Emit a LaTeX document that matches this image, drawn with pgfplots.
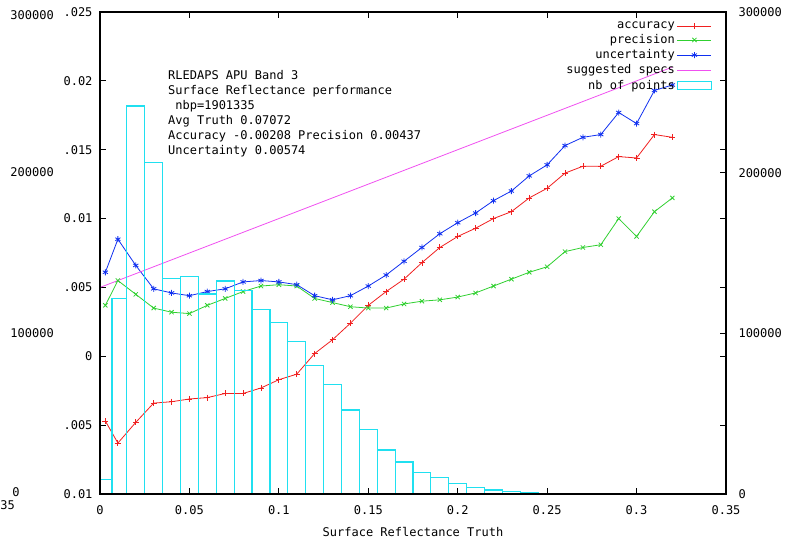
\documentclass[border=0pt]{standalone}
\usepackage{fontspec}
\setmainfont{DejaVu Sans Mono}
\usepackage{pgfplots}
\pgfplotsset{compat=1.18}
\definecolor{accred}{HTML}{F02020}
\definecolor{precgreen}{HTML}{30D030}
\definecolor{uncblue}{HTML}{1030F0}
\definecolor{specmag}{HTML}{F050F0}
\definecolor{histcyan}{HTML}{20E0F0}
\pgfplotsset{
  frame/.style={
    at={(0,0)}, anchor=south west, scale only axis,
    width=626pt, height=482pt,
    xmin=0, xmax=0.35,
    tick align=inside, major tick length=6pt,
    axis line style={line width=1.6pt, black},
    tick style={line width=1.1pt, black},
  },
}

\begin{document}
\begin{tikzpicture}[font=\fontsize{12}{15}\selectfont]
\useasboundingbox (-100pt,-51pt) rectangle (692pt,494pt);

% lines, left axis
\begin{axis}[frame,
    ymin=-0.01, ymax=0.025,
    xtick={0,0.05,0.1,0.15,0.2,0.25,0.3,0.35},
    xticklabels={0,0.05,0.1,0.15,0.2,0.25,0.3,0.35},
    ytick={-0.01,-0.005,0,0.005,0.01,0.015,0.02,0.025},
    yticklabels={-0.01,-0.005,0,0.005,0.01,0.015,0.02,0.025},
    xticklabel style={yshift=-8pt},
    yticklabel style={xshift=-4pt},
    xlabel={Surface Reflectance Truth},
    x label style={at={(axis description cs:0.5,0)}, anchor=center, yshift=-38pt},
    legend style={at={(axis description cs:0.978,0.984)}, anchor=north east,
      draw=none, fill=none, inner sep=0pt, row sep=0.5pt,
      nodes={inner sep=2pt}},
    legend plot pos=right, legend cell align=right,
    legend image code/.code={\draw[mark repeat=2,mark phase=2,#1]
      plot coordinates {(0pt,0pt) (17pt,0pt) (34pt,0pt)};},
]
\addplot[accred, line width=0.8pt, mark=+, mark size=3pt] coordinates {
(0.003,-0.0047) (0.01,-0.0063) (0.02,-0.0048) (0.03,-0.0034) (0.04,-0.0033)
(0.05,-0.0031) (0.06,-0.0030) (0.07,-0.0027) (0.08,-0.0027) (0.09,-0.0023)
(0.10,-0.0017) (0.11,-0.0013) (0.12,0.0002) (0.13,0.0012) (0.14,0.0024)
(0.15,0.0037) (0.16,0.0047) (0.17,0.0056) (0.18,0.0068) (0.19,0.0079)
(0.20,0.0087) (0.21,0.0093) (0.22,0.0100) (0.23,0.0105) (0.24,0.0115)
(0.25,0.0122) (0.26,0.0133) (0.27,0.0138) (0.28,0.0138) (0.29,0.0145)
(0.30,0.0144) (0.31,0.0161) (0.32,0.0159)};
\addlegendentry{accuracy}
\addplot[precgreen, line width=0.8pt, mark=x, mark size=3pt] coordinates {
(0.003,0.0037) (0.01,0.0055) (0.02,0.0045) (0.03,0.0035) (0.04,0.0032)
(0.05,0.0031) (0.06,0.0037) (0.07,0.0042) (0.08,0.0047) (0.09,0.0051)
(0.10,0.0052) (0.11,0.0051) (0.12,0.0042) (0.13,0.0039) (0.14,0.0036)
(0.15,0.0035) (0.16,0.0035) (0.17,0.0038) (0.18,0.0040) (0.19,0.0041)
(0.20,0.0043) (0.21,0.0046) (0.22,0.0051) (0.23,0.0056) (0.24,0.0061)
(0.25,0.0065) (0.26,0.0076) (0.27,0.0079) (0.28,0.0081) (0.29,0.0100)
(0.30,0.0087) (0.31,0.0105) (0.32,0.0115)};
\addlegendentry{precision}
\addplot[uncblue, line width=0.8pt, mark=asterisk, mark size=3pt] coordinates {
(0.003,0.0061) (0.01,0.0085) (0.02,0.0066) (0.03,0.0049) (0.04,0.0046)
(0.05,0.0044) (0.06,0.0047) (0.07,0.0049) (0.08,0.0054) (0.09,0.0055)
(0.10,0.0054) (0.11,0.0052) (0.12,0.0044) (0.13,0.0041) (0.14,0.0044)
(0.15,0.0051) (0.16,0.0059) (0.17,0.0069) (0.18,0.0079) (0.19,0.0089)
(0.20,0.0097) (0.21,0.0104) (0.22,0.0113) (0.23,0.0120) (0.24,0.0131)
(0.25,0.0139) (0.26,0.0153) (0.27,0.0159) (0.28,0.0161) (0.29,0.0177)
(0.30,0.0169) (0.31,0.0193) (0.32,0.0197)};
\addlegendentry{uncertainty}
\addplot[specmag, line width=0.8pt] coordinates {(0,0.005) (0.32,0.021)};
\addlegendentry{suggested specs}
\addlegendimage{legend image code/.code={\draw[histcyan, line width=1.2pt] (0pt,-4pt) rectangle (34pt,4pt);}}
\addlegendentry{nb of points}
\end{axis}

% histogram, right axis
\begin{axis}[frame, axis on top,
    ymin=0, ymax=300000,
    xtick=\empty,
    ytick={0,100000,200000,300000},
    yticklabels={0,100000,200000,300000},
    ytick pos=right, yticklabel pos=right,
    scaled y ticks=false,
    yticklabel style={xshift=9pt},
]
\addplot[ybar interval, draw=histcyan, fill=none, line width=1.2pt] coordinates {
(0,9150) (0.0067,121800) (0.015,241500) (0.025,206400) (0.035,134200)
(0.045,135300) (0.055,124500) (0.065,132600) (0.075,126500) (0.085,115000)
(0.095,106900) (0.105,94800) (0.115,79900) (0.125,68300) (0.135,52300)
(0.145,40300) (0.155,27400) (0.165,19900) (0.175,13300) (0.185,10200)
(0.195,6600) (0.205,4100) (0.215,2500) (0.225,1500) (0.235,600) (0.245,0)};
\end{axis}

\node[anchor=north west, align=left, inner sep=0pt] at (68pt,423.5pt)
  {RLEDAPS APU Band 3\\Surface Reflectance performance\\\ nbp=1901335\\
   Avg Truth 0.07072\\Accuracy -0.00208 Precision 0.00437\\Uncertainty 0.00574};

% fragment of a neighbouring plot over the left edge
\fill[white] (-100pt,-51pt) rectangle (-36pt,494pt);
\node[anchor=east, inner sep=0pt] at (-46pt,479pt) {300000};
\node[anchor=east, inner sep=0pt] at (-46pt,322pt) {200000};
\node[anchor=east, inner sep=0pt] at (-46pt,161pt) {100000};
\node[inner sep=0pt] at (-84pt,2pt) {0};
\node[inner sep=0pt] at (-99.5pt,-11pt) {0.35};
\end{tikzpicture}
\end{document}
